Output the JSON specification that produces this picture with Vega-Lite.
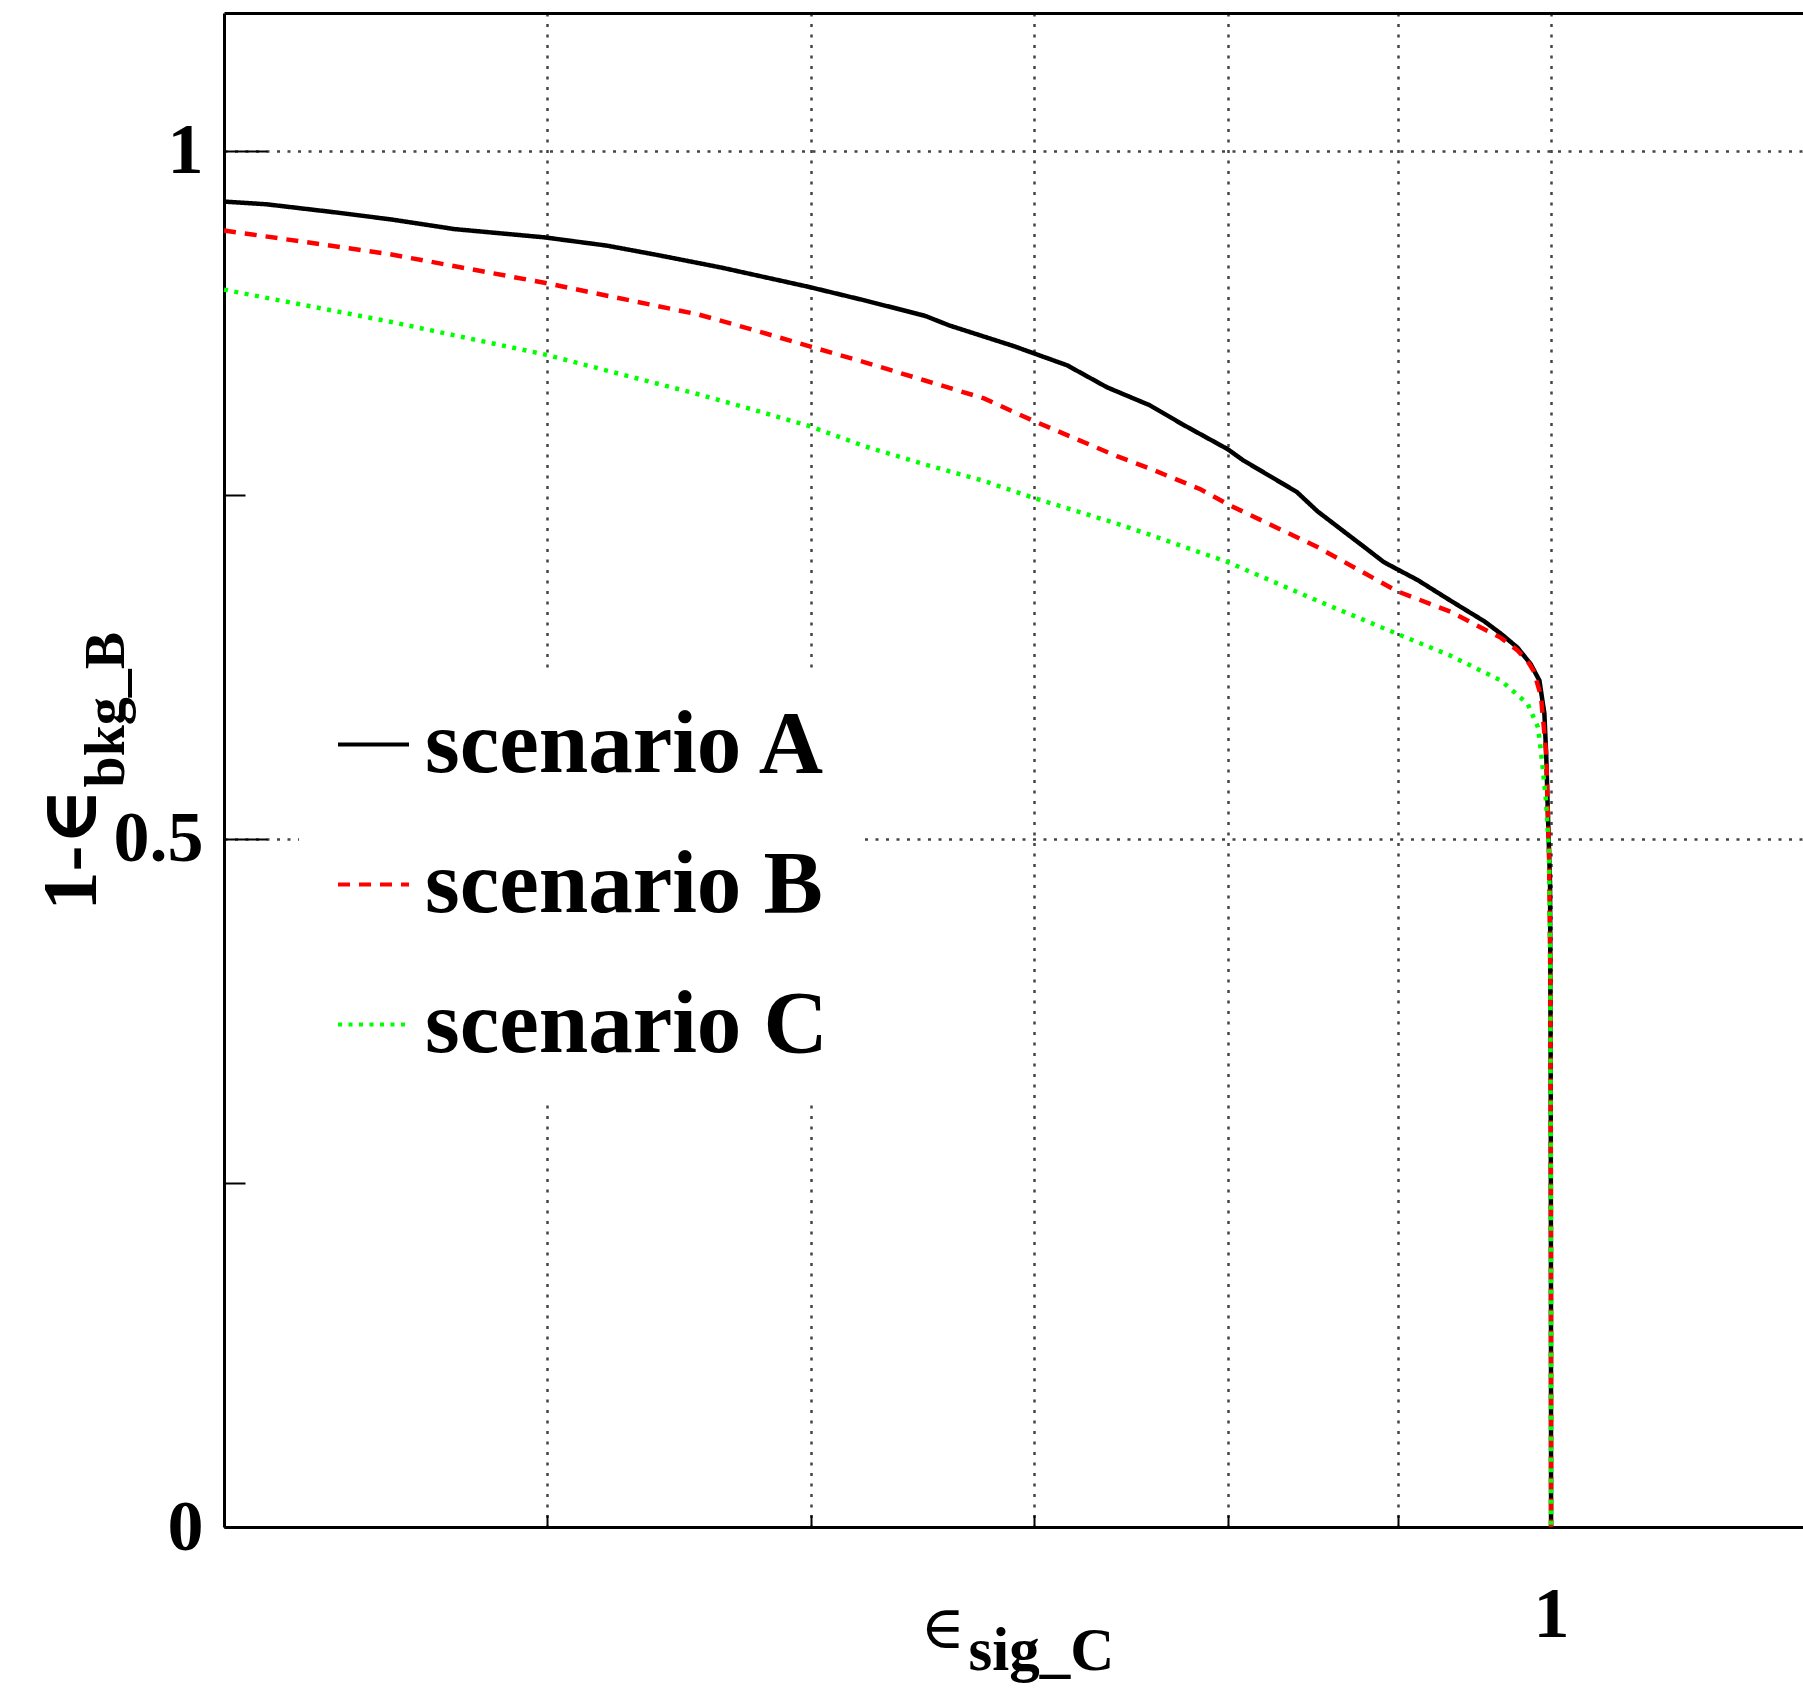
{
  "$schema": "https://vega.github.io/schema/vega-lite/v6.json",
  "width": 1579,
  "height": 1514,
  "autosize": {"type": "none"},
  "padding": {"left": 224, "top": 13, "right": 0, "bottom": 161},
  "background": "white",
  "config": {"view": {"stroke": null}, "font": "Liberation Serif"},
  "data": {"values": [
    {"scenario": "scenario A", "eff": 0.400, "rej": 0.963},
    {"scenario": "scenario A", "eff": 0.412, "rej": 0.961},
    {"scenario": "scenario A", "eff": 0.4325, "rej": 0.955},
    {"scenario": "scenario A", "eff": 0.449, "rej": 0.950},
    {"scenario": "scenario A", "eff": 0.469, "rej": 0.943},
    {"scenario": "scenario A", "eff": 0.499, "rej": 0.937},
    {"scenario": "scenario A", "eff": 0.521, "rej": 0.931},
    {"scenario": "scenario A", "eff": 0.540, "rej": 0.924},
    {"scenario": "scenario A", "eff": 0.564, "rej": 0.915},
    {"scenario": "scenario A", "eff": 0.599, "rej": 0.901},
    {"scenario": "scenario A", "eff": 0.623, "rej": 0.891},
    {"scenario": "scenario A", "eff": 0.649, "rej": 0.880},
    {"scenario": "scenario A", "eff": 0.660, "rej": 0.873},
    {"scenario": "scenario A", "eff": 0.690, "rej": 0.858},
    {"scenario": "scenario A", "eff": 0.716, "rej": 0.844},
    {"scenario": "scenario A", "eff": 0.736, "rej": 0.828},
    {"scenario": "scenario A", "eff": 0.758, "rej": 0.815},
    {"scenario": "scenario A", "eff": 0.7755, "rej": 0.801},
    {"scenario": "scenario A", "eff": 0.800, "rej": 0.783},
    {"scenario": "scenario A", "eff": 0.8085, "rej": 0.775},
    {"scenario": "scenario A", "eff": 0.839, "rej": 0.752},
    {"scenario": "scenario A", "eff": 0.851, "rej": 0.738},
    {"scenario": "scenario A", "eff": 0.867, "rej": 0.723},
    {"scenario": "scenario A", "eff": 0.879, "rej": 0.712},
    {"scenario": "scenario A", "eff": 0.891, "rej": 0.701},
    {"scenario": "scenario A", "eff": 0.899, "rej": 0.696},
    {"scenario": "scenario A", "eff": 0.912, "rej": 0.688},
    {"scenario": "scenario A", "eff": 0.933, "rej": 0.673},
    {"scenario": "scenario A", "eff": 0.955, "rej": 0.658},
    {"scenario": "scenario A", "eff": 0.966, "rej": 0.649},
    {"scenario": "scenario A", "eff": 0.977, "rej": 0.639},
    {"scenario": "scenario A", "eff": 0.986, "rej": 0.627},
    {"scenario": "scenario A", "eff": 0.992, "rej": 0.615},
    {"scenario": "scenario A", "eff": 0.9954, "rej": 0.591},
    {"scenario": "scenario A", "eff": 0.9967, "rej": 0.560},
    {"scenario": "scenario A", "eff": 0.9979, "rej": 0.515},
    {"scenario": "scenario A", "eff": 0.9993, "rej": 0.467},
    {"scenario": "scenario A", "eff": 0.9998, "rej": 0.300},
    {"scenario": "scenario A", "eff": 0.99995, "rej": 0.150},
    {"scenario": "scenario A", "eff": 1.0, "rej": 0.0},
    {"scenario": "scenario B", "eff": 0.400, "rej": 0.942},
    {"scenario": "scenario B", "eff": 0.448, "rej": 0.925},
    {"scenario": "scenario B", "eff": 0.499, "rej": 0.904},
    {"scenario": "scenario B", "eff": 0.555, "rej": 0.881},
    {"scenario": "scenario B", "eff": 0.576, "rej": 0.870},
    {"scenario": "scenario B", "eff": 0.599, "rej": 0.858},
    {"scenario": "scenario B", "eff": 0.623, "rej": 0.846},
    {"scenario": "scenario B", "eff": 0.649, "rej": 0.833},
    {"scenario": "scenario B", "eff": 0.676, "rej": 0.820},
    {"scenario": "scenario B", "eff": 0.699, "rej": 0.804},
    {"scenario": "scenario B", "eff": 0.741, "rej": 0.778},
    {"scenario": "scenario B", "eff": 0.758, "rej": 0.769},
    {"scenario": "scenario B", "eff": 0.785, "rej": 0.754},
    {"scenario": "scenario B", "eff": 0.800, "rej": 0.743},
    {"scenario": "scenario B", "eff": 0.851, "rej": 0.712},
    {"scenario": "scenario B", "eff": 0.899, "rej": 0.680},
    {"scenario": "scenario B", "eff": 0.933, "rej": 0.665},
    {"scenario": "scenario B", "eff": 0.966, "rej": 0.646},
    {"scenario": "scenario B", "eff": 0.977, "rej": 0.637},
    {"scenario": "scenario B", "eff": 0.984, "rej": 0.629},
    {"scenario": "scenario B", "eff": 0.988, "rej": 0.622},
    {"scenario": "scenario B", "eff": 0.993, "rej": 0.604},
    {"scenario": "scenario B", "eff": 0.9965, "rej": 0.564},
    {"scenario": "scenario B", "eff": 0.9986, "rej": 0.490},
    {"scenario": "scenario B", "eff": 0.9995, "rej": 0.400},
    {"scenario": "scenario B", "eff": 0.99995, "rej": 0.200},
    {"scenario": "scenario B", "eff": 1.0, "rej": 0.0},
    {"scenario": "scenario C", "eff": 0.400, "rej": 0.899},
    {"scenario": "scenario C", "eff": 0.448, "rej": 0.876},
    {"scenario": "scenario C", "eff": 0.499, "rej": 0.852},
    {"scenario": "scenario C", "eff": 0.555, "rej": 0.823},
    {"scenario": "scenario C", "eff": 0.576, "rej": 0.812},
    {"scenario": "scenario C", "eff": 0.599, "rej": 0.800},
    {"scenario": "scenario C", "eff": 0.623, "rej": 0.785},
    {"scenario": "scenario C", "eff": 0.649, "rej": 0.772},
    {"scenario": "scenario C", "eff": 0.676, "rej": 0.760},
    {"scenario": "scenario C", "eff": 0.699, "rej": 0.748},
    {"scenario": "scenario C", "eff": 0.741, "rej": 0.729},
    {"scenario": "scenario C", "eff": 0.758, "rej": 0.721},
    {"scenario": "scenario C", "eff": 0.785, "rej": 0.708},
    {"scenario": "scenario C", "eff": 0.800, "rej": 0.701},
    {"scenario": "scenario C", "eff": 0.851, "rej": 0.673},
    {"scenario": "scenario C", "eff": 0.899, "rej": 0.649},
    {"scenario": "scenario C", "eff": 0.933, "rej": 0.633},
    {"scenario": "scenario C", "eff": 0.966, "rej": 0.615},
    {"scenario": "scenario C", "eff": 0.984, "rej": 0.598},
    {"scenario": "scenario C", "eff": 0.991, "rej": 0.581},
    {"scenario": "scenario C", "eff": 0.993, "rej": 0.564},
    {"scenario": "scenario C", "eff": 0.9965, "rej": 0.528},
    {"scenario": "scenario C", "eff": 0.9986, "rej": 0.491},
    {"scenario": "scenario C", "eff": 0.9995, "rej": 0.400},
    {"scenario": "scenario C", "eff": 0.99995, "rej": 0.200},
    {"scenario": "scenario C", "eff": 1.0, "rej": 0.0}
  ]},
  "layer": [
    {
      "mark": {"type": "line", "strokeWidth": 4.5},
      "encoding": {
        "x": {
          "field": "eff", "type": "quantitative",
          "scale": {"type": "log", "domain": [0.4, 1.19], "nice": false},
          "axis": {
            "orient": "bottom", "values": [0.5, 0.6, 0.7, 0.8, 0.9, 1],
            "labelExpr": "datum.value == 1 ? '1' : ''",
            "tickSize": -12, "tickWidth": 2, "tickColor": "black",
            "labelFontSize": 72, "labelFontWeight": "bold", "labelFont": "Liberation Serif", "labelColor": "black",
            "labelPadding": 64, "labelBaseline": "top", "labelFlush": false, "labelOverlap": false,
            "domainColor": "black", "domainWidth": 3,
            "grid": true, "gridColor": "#444444", "gridDash": [3, 7.5], "gridWidth": 2.5,
            "title": "∈", "titleFont": "DejaVu Serif", "titleFontWeight": "normal", "titleFontSize": 60, "titleColor": "black",
            "titleX": 696, "titleY": 120, "titleAlign": "left", "titleBaseline": "alphabetic", "titleAngle": 0
          }
        },
        "y": {
          "field": "rej", "type": "quantitative",
          "scale": {"domain": [0, 1.1], "nice": false, "zero": false},
          "axis": {
            "orient": "left", "values": [0, 0.5, 1], "format": "~g",
            "tickSize": -43, "tickWidth": 2, "tickColor": "black",
            "labelFontSize": 72, "labelFontWeight": "bold", "labelFont": "Liberation Serif", "labelColor": "black",
            "labelPadding": 64, "labelBaseline": "middle", "labelAlign": "right", "labelOverlap": false, "labelFlush": false,
            "domainColor": "black", "domainWidth": 3,
            "grid": true, "gridColor": "#444444", "gridDash": [3, 7.5], "gridWidth": 2.5,
            "title": "1-∈", "titleFont": "Liberation Serif, DejaVu Serif", "titleFontWeight": "bold", "titleFontSize": 78, "titleColor": "black",
            "titleAngle": 270, "titleX": -129, "titleY": 897, "titleAlign": "left", "titleBaseline": "alphabetic"
          }
        },
        "color": {
          "field": "scenario", "type": "nominal",
          "scale": {"domain": ["scenario A", "scenario B", "scenario C"], "range": ["#000000", "#ff0000", "#00ff00"]},
          "legend": {
            "title": null, "orient": "none", "legendX": 75, "legendY": 657,
            "fillColor": "white", "padding": 30, "symbolType": "stroke", "symbolSize": 5041, "symbolStrokeWidth": 4,
            "labelFontSize": 89, "labelFont": "Liberation Serif", "labelFontWeight": "bold", "labelColor": "black",
            "labelLimit": 1000, "labelOffset": 7, "rowPadding": 50
          }
        },
        "strokeDash": {
          "field": "scenario", "type": "nominal",
          "scale": {"domain": ["scenario A", "scenario B", "scenario C"], "range": [[1, 0], [12, 9], [4, 6.5]]},
          "legend": {
            "title": null, "orient": "none", "legendX": 75, "legendY": 657,
            "fillColor": "white", "padding": 30, "symbolType": "stroke", "symbolSize": 5041, "symbolStrokeWidth": 4,
            "labelFontSize": 89, "labelFont": "Liberation Serif", "labelFontWeight": "bold", "labelColor": "black",
            "labelLimit": 1000, "labelOffset": 7, "rowPadding": 50
          }
        }
      }
    },
    {
      "mark": {"type": "line", "opacity": 0},
      "encoding": {
        "x": {
          "field": "eff", "type": "quantitative",
          "axis": {
            "orient": "top", "ticks": false, "labels": false, "grid": false,
            "domain": true, "domainColor": "black", "domainWidth": 3,
            "title": "sig_C", "titleFont": "Liberation Serif", "titleFontWeight": "bold", "titleFontSize": 61, "titleColor": "black",
            "titleX": 744, "titleY": 1656, "titleAlign": "left", "titleBaseline": "alphabetic", "titleAngle": 0
          }
        },
        "y": {
          "field": "rej", "type": "quantitative",
          "axis": {
            "orient": "left", "values": [0.25, 0.75], "tickSize": -21, "tickWidth": 2, "tickColor": "black",
            "labels": false, "grid": false, "domain": false,
            "title": "bkg_B", "titleFont": "Liberation Serif", "titleFontWeight": "bold", "titleFontSize": 56, "titleColor": "black",
            "titleAngle": 270, "titleX": -101, "titleY": 774, "titleAlign": "left", "titleBaseline": "alphabetic"
          }
        },
        "detail": {"field": "scenario", "type": "nominal"}
      }
    }
  ],
  "resolve": {"axis": {"x": "independent", "y": "independent"}}
}
